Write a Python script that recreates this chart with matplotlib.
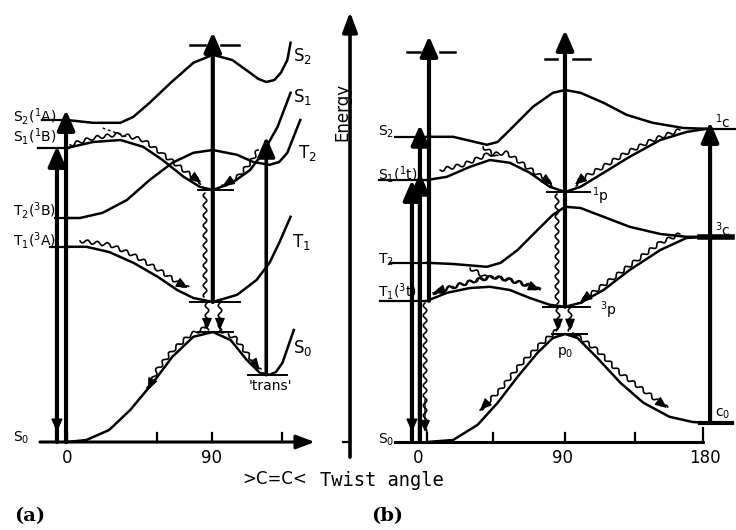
import matplotlib.pyplot as plt

# values: twist angle in degrees, energy in arbitrary units

# ---------- panel (a) ----------
a_ang_S2 = [0, 16, 33, 41, 51, 64, 78, 90, 102, 113, 118, 123, 128, 132, 136, 138]
a_E_S2 = [80.5, 79.8, 79.8, 81.3, 84.8, 89.8, 94.8, 96.8, 95.5, 92.3, 90.8, 90, 90.5, 92.3, 95.5, 99.8]
a_ang_S1 = [0, 16, 33, 47, 59, 72, 82, 90, 102, 113, 121, 130, 138]
a_E_S1 = [73.5, 75, 75.5, 73.8, 70.5, 66.3, 63.8, 63, 64.8, 68, 72.3, 78.8, 87.3]
a_ang_T2 = [0, 8, 22, 37, 51, 65, 78, 90, 105, 115, 125, 131, 136, 144]
a_E_T2 = [56, 56, 57.3, 60.5, 65.5, 69.8, 72.3, 73, 71.8, 70, 69.3, 70, 72.3, 80.5]
a_ang_T1 = [0, 12, 26, 41, 56, 68, 78, 90, 105, 117, 125, 131, 138]
a_E_T1 = [48.8, 48.8, 47.5, 44.8, 41.3, 38, 36, 35, 36.8, 40.5, 44.8, 49.8, 56.3]
a_ang_S0 = [0, 12, 26, 39, 53, 65, 78, 90, 101, 111, 119, 125, 129, 133, 140]
a_E_S0 = [0, 0.5, 3, 8, 14.8, 21.3, 26.3, 27.5, 25.5, 20.5, 17.3, 16.8, 17.5, 19.8, 28]

a_state_lbl = [r'S$_2$($^1$A)', r'S$_1$($^1$B)', r'T$_2$($^3$B)', r'T$_1$($^3$A)', r'S$_0$']
a_state_E = [80.5, 73.5, 56, 48.8, 0]
a_state_lbl_E = [81.5, 76.5, 58, 50.5, 1]
a_state_from = [-15.4, -17.9, -7.4, -10.5, -16.7]

a_end_lbl = [r'S$_2$', r'S$_1$', r'T$_2$', r'T$_1$', r'S$_0$']
a_end_ang = [139.5, 139.5, 142.6, 139, 139.5]
a_end_E = [96.5, 86.3, 72.3, 50, 23.5]

# short levels at the twisted / trans geometries
a_lev_E = [63, 35, 27.5, 16.8]
a_lev_lo = [81, 76, 81, 112]
a_lev_hi = [102.5, 107, 102.5, 136]

# vertical transitions: angle, from, to
a_vert_ang = [-0.6, -6.2, 90, 123]
a_vert_lo = [0, 0, 35, 16.8]
a_vert_hi = [83, 74, 102.5, 76.3]
a_top_dash_E = 99.3
a_top_dash = [(76, 85), (95, 106)]

a_ticks = [0, 55.5, 89.5, 132.7]
a_ticklbl = {0: '0', 89.5: '90'}

a_wavy = [
    [(1.9, 74.3), (16, 76), (33, 77), (47, 75.5), (59, 72), (72, 68), (83, 64.8)],
    [(118, 73), (113, 69.8), (106, 66.5), (96, 64)],
    [(8, 50.3), (26.5, 49.3), (40.7, 46.8), (55.6, 43.3), (68, 40), (74.7, 38.5)],
    [(85.2, 28.5), (76, 26.8), (65.4, 23), (55.6, 18), (50, 13)],
    [(94.4, 28), (103.7, 26), (111.7, 21.8), (119, 18)],
    [(86.4, 34.8), (86.4, 28)],
    [(94.4, 34.8), (94.4, 28)],
]
a_wavy_plain = [[(85.2, 62.3), (85.2, 36.3)]]
a_dotted = [(22, 78.5), (37, 76.3)]

# ---------- panel (b) ----------
b_ang = [0, 13, 28, 41, 54, 67, 80, 90, 100, 115, 132, 152, 169, 182]
b_ang_S2 = [0, 17, 39, 46, 56, 69, 82, 90, 100, 115, 130, 147, 167, 182]
b_E_S2 = [76.3, 76.3, 74.3, 75, 78.8, 83.8, 87.3, 88, 87.3, 84.8, 81.8, 79.8, 78.5, 78.3]
b_E_S1 = [65.5, 66.3, 68.8, 70.5, 69.8, 67.3, 63.8, 62.5, 63.8, 67.3, 71.3, 75.5, 77.5, 78.3]
b_ang_T2 = [0, 17, 39, 48, 59, 72, 82, 90, 100, 115, 132, 152, 169, 182]
b_E_T2 = [44.8, 44.5, 43.8, 44.8, 48, 53, 56.8, 58.8, 58.5, 56.3, 53.8, 52, 51.3, 51.3]
b_E_T1 = [35.3, 37.3, 38.5, 38.8, 38, 36, 34.3, 33.8, 34.8, 38, 43, 48, 51, 51.3]
b_ang_S0 = [0, 17, 33, 46, 59, 72, 82, 90, 98, 111, 126, 141, 158, 173, 182]
b_E_S0 = [0, 0.5, 4.3, 9.8, 16.3, 22.3, 26, 27, 26, 21, 14.8, 9.8, 6.3, 5, 4.8]

b_state_lbl = [r'S$_2$', r'S$_1$($^1$t)', r'T$_2$', r'T$_1$($^3$t)', r'S$_0$']
b_state_E = [76.3, 65.5, 44.8, 35.3, 0]
b_state_lbl_E = [77.5, 67, 45.5, 37.5, 0.5]
b_state_from = [-20.8, -31, -24, -30.6, -20.8]

b_lev_lbl = [r'$^1$p', r'$^3$p', r'p$_0$', r'$^1$c', r'$^3$c', r'c$_0$']
b_lev_E = [62.5, 33.8, 27, 78.3, 51.3, 4.8]
b_lev_lo = [78, 75.6, 81.4, 178, 178, 178]
b_lev_hi = [106, 106, 104, 201, 199, 199]
b_lev_lw = [1.4, 1.4, 1.4, 1.6, 4, 3]
b_lbl_ang = [107.5, 112.7, 90, 187.5, 187.5, 187.5]
b_lbl_E = [61.5, 33, 22.5, 80, 53, 7]

b_vert_ang = [1.3, -4.6, -9.8, 89.9, 184.4]
b_vert_lo = [35.3, 0, 0, 33.8, 4.8]
b_vert_hi = [101.5, 79.3, 65.5, 103, 80]
b_top_dash = [(97.5, -13, -4.6), (97.5, 8.5, 18.2), (95.8, 76.9, 84.7), (95.8, 95.1, 106.2)]

b_ticks = [0, 43, 90, 135.5, 180]
b_ticklbl = {-6: '0', 88: '90', 181: '180'}

b_wavy = [
    [(8.5, 68), (23.5, 69.3), (39, 71.8), (52, 72.3), (65, 68.8), (75.6, 66), (82, 64.3)],
    [(164.8, 78), (147, 75.5), (130, 72.3), (114.7, 68.8), (101.6, 66), (96.4, 64.3)],
    [(164.8, 52), (151.8, 49.8), (136.8, 45.5), (121.2, 41), (108, 37.3), (99.7, 35)],
    [(84.7, 28), (73.6, 24.3), (60.6, 19.3), (47.6, 13), (34.5, 8)],
    [(95.1, 27.3), (110.7, 23), (125.7, 17.3), (143.3, 12.3), (156.4, 8.5)],
    [(85.3, 33.5), (85.3, 27.8)],
    [(93.2, 33.5), (93.2, 27.8)],
    [(-1.3, 34.8), (-1.3, 2.5)],
]
b_wavy_both = [(3.9, 37.3), (17, 38.8), (32.6, 40.5), (43, 41.3), (54, 40.5), (65, 39.3), (73.6, 38)]
b_wavy_plain = [[(84.7, 62), (84.7, 34.5)], [(36.5, 73.8), (45.6, 71.3)], [(28, 43.5), (39, 41)]]


def wavy(ax, pts, head=True, lw=1.2):
    xs = [p[0] for p in pts]
    ys = [p[1] for p in pts]
    ln, = ax.plot(xs, ys, color='k', lw=lw, solid_capstyle='round')
    ln.set_sketch_params(1.8, 10, 1)
    if head:
        (x0, y0), (x1, y1) = pts[-2], pts[-1]
        ax.annotate('', xy=(x1, y1), xytext=(x1 - 0.25 * (x1 - x0), y1 - 0.25 * (y1 - y0)),
                    arrowprops=dict(arrowstyle='-|>,head_length=0.7,head_width=0.3', color='k',
                                    lw=1, mutation_scale=10, shrinkA=0, shrinkB=0))


def up_arrow(ax, x, lo, hi, lw=3):
    ax.annotate('', xy=(x, hi), xytext=(x, lo),
                arrowprops=dict(arrowstyle='-|>,head_length=0.8,head_width=0.35', color='k',
                                lw=lw, mutation_scale=15, shrinkA=0, shrinkB=0))


plt.rcParams['font.family'] = ['DejaVu Sans']
plt.rcParams['mathtext.fontset'] = 'dejavusans'

fig = plt.figure(figsize=(7.36, 5.30), dpi=100)
axa = fig.add_axes([0, 0, 1, 1])
axb = fig.add_axes([0, 0, 1, 1])
axb.patch.set_alpha(0)
axa.set_xlim(-41.36, 412.96)
axb.set_xlim(-278.18, 201.3)
for ax in (axa, axb):
    ax.set_ylim(-22, 110.5)
    ax.axis('off')

lbl_kw = dict(fontsize=10, color='k', va='center')

# ----- panel (a) -----
for xs, ys in [(a_ang_S2, a_E_S2), (a_ang_S1, a_E_S1), (a_ang_T2, a_E_T2),
               (a_ang_T1, a_E_T1), (a_ang_S0, a_E_S0)]:
    axa.plot(xs, ys, color='k', lw=1.8)
for e, lo, hi in zip(a_lev_E, a_lev_lo, a_lev_hi):
    axa.plot([lo, hi], [e, e], color='k', lw=1.4)
for lbl, e, le, x0 in zip(a_state_lbl, a_state_E, a_state_lbl_E, a_state_from):
    if e > 0:
        axa.plot([x0, 1], [e, e], color='k', lw=1.6)
    axa.text(-33.3, le, lbl, ha='left', **lbl_kw)
for lbl, x, e in zip(a_end_lbl, a_end_ang, a_end_E):
    axa.text(x, e, lbl, ha='left', fontsize=12, va='center')
axa.text(125.3, 14.0, "'trans'", ha='center', va='center', fontsize=10)

for x, lo, hi in zip(a_vert_ang, a_vert_lo, a_vert_hi):
    up_arrow(axa, x, lo, hi, lw=3 if x < 100 else 2.6)
axa.annotate('', xy=(-6.2, 2.5), xytext=(-6.2, 8),
             arrowprops=dict(arrowstyle='-|>,head_length=0.8,head_width=0.35', color='k',
                             lw=1, mutation_scale=10, shrinkA=0, shrinkB=0))
for lo, hi in a_top_dash:
    axa.plot([lo, hi], [a_top_dash_E, a_top_dash_E], color='k', lw=1.8)

for pts in a_wavy:
    wavy(axa, pts)
for pts in a_wavy_plain:
    wavy(axa, pts, head=False)
axa.plot([p[0] for p in a_dotted], [p[1] for p in a_dotted], color='k', lw=1, ls=(0, (2, 2)))

# twist-angle axis (a)
axa.annotate('', xy=(153, 0), xytext=(-16.7, 0),
             arrowprops=dict(arrowstyle='-|>,head_length=0.8,head_width=0.3', color='k',
                             lw=2.2, mutation_scale=14, shrinkA=0, shrinkB=0))
for t in a_ticks:
    axa.plot([t, t], [0, 2.2], color='k', lw=1.6)
for t, s in a_ticklbl.items():
    axa.text(t, -3.9, s, ha='center', va='center', fontsize=12)

# energy axis between the panels
axa.annotate('', xy=(174.7, 107.5), xytext=(174.7, -3.8),
             arrowprops=dict(arrowstyle='-|>,head_length=0.8,head_width=0.3', color='k',
                             lw=2.6, mutation_scale=15, shrinkA=0, shrinkB=0))
axa.plot([170.4, 174.7], [0, 0], color='k', lw=1.6)
axa.text(169.8, 82.5, 'Energy', rotation=90, ha='center', va='center', fontsize=12)

axa.text(128.4, -9.2, '>C=C<', ha='center', va='center', fontsize=12)
axa.text(156.2, -9.6, 'Twist angle', ha='left', va='center', fontsize=13.5,
         family='DejaVu Sans Mono')
axa.text(-22.8, -18.6, '(a)', ha='center', va='center', fontsize=14, fontweight='bold',
         family='DejaVu Serif')

# ----- panel (b) -----
for xs, ys in [(b_ang_S2, b_E_S2), (b_ang, b_E_S1), (b_ang_T2, b_E_T2),
               (b_ang, b_E_T1), (b_ang_S0, b_E_S0)]:
    axb.plot(xs, ys, color='k', lw=1.8)
for lbl, e, lo, hi, lw, lx, ly in zip(b_lev_lbl, b_lev_E, b_lev_lo, b_lev_hi, b_lev_lw,
                                      b_lbl_ang, b_lbl_E):
    axb.plot([lo, hi], [e, e], color='k', lw=lw)
    axb.text(lx, ly, lbl, ha='center' if lx < 100 else 'left', fontsize=10, va='center')
for lbl, e, le, x0 in zip(b_state_lbl, b_state_E, b_state_lbl_E, b_state_from):
    if e > 0:
        axb.plot([x0, 1], [e, e], color='k', lw=1.6)
    axb.text(-32, le, lbl, ha='left', **lbl_kw)

for x, lo, hi in zip(b_vert_ang, b_vert_lo, b_vert_hi):
    up_arrow(axb, x, lo, hi)
up_arrow(axb, -4.6, 0, 67.3)
axb.annotate('', xy=(-9.8, 2.5), xytext=(-9.8, 8),
             arrowprops=dict(arrowstyle='-|>,head_length=0.8,head_width=0.35', color='k',
                             lw=1, mutation_scale=10, shrinkA=0, shrinkB=0))
for e, lo, hi in b_top_dash:
    axb.plot([lo, hi], [e, e], color='k', lw=1.8)

for pts in b_wavy:
    wavy(axb, pts)
for pts in b_wavy_plain:
    wavy(axb, pts, head=False)
wavy(axb, b_wavy_both)
wavy(axb, b_wavy_both[::-1])

# twist-angle axis (b)
axb.plot([-20.8, 180], [0, 0], color='k', lw=2.2)
for t in b_ticks:
    axb.plot([t, t], [0, 2.2 if t < 180 else 3.5], color='k', lw=1.6)
for t, s in b_ticklbl.items():
    axb.text(t, -3.9, s, ha='center', va='center', fontsize=12)
axb.text(-26, -18.6, '(b)', ha='center', va='center', fontsize=14, fontweight='bold',
         family='DejaVu Serif')

fig.savefig('out.png', dpi=100, facecolor='white')
